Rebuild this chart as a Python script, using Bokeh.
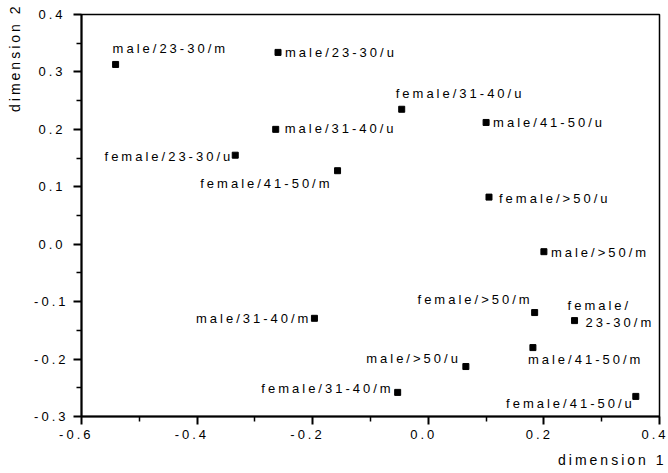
from bokeh.plotting import figure
from bokeh.models import (Range1d, FixedTicker, NumeralTickFormatter, ColumnDataSource,
                          InlineStyleSheet, Title)
from bokeh.core.properties import value
from bokeh.embed import file_html
from bokeh.resources import INLINE

# ---- data ----
labels = [
    "male/23-30/m", "male/23-30/u", "female/31-40/u", "male/41-50/u",
    "male/31-40/u", "female/23-30/u", "female/41-50/m", "female/>50/u",
    "male/>50/m", "female/>50/m", "female/\n23-30/m", "male/31-40/m",
    "male/41-50/m", "male/>50/u", "female/31-40/m", "female/41-50/u",
]
dim1 = [-0.541, -0.260, -0.046, 0.100, -0.264, -0.334, -0.157, 0.105,
        0.200, 0.184, 0.253, -0.197, 0.181, 0.065, -0.053, 0.359]
dim2 = [0.313, 0.334, 0.235, 0.212, 0.200, 0.155, 0.128, 0.082,
        -0.013, -0.119, -0.133, -0.129, -0.180, -0.213, -0.258, -0.265]

x_major = [-0.6, -0.4, -0.2, 0.0, 0.2, 0.4]
x_minor = [-0.5, -0.3, -0.1, 0.1, 0.3]
y_major = [-0.3, -0.2, -0.1, 0.0, 0.1, 0.2, 0.3, 0.4]
y_minor = [-0.25, -0.15, -0.05, 0.05, 0.15, 0.25, 0.35]

# ---- label placement (pixel offsets of the visible text edge from the point) ----
placement = [
    [(-3, -16, "left")], [(7, 0, "left")], [(-6, -16, "left")], [(7, 0, "left")],
    [(9, -1, "left")], [(-5, 1, "right")], [(-8, 13, "right")], [(10, 1, "left")],
    [(7, 1, "left")], [(-5, -13, "right")], [(-7, -15, "left"), (11, 2, "left")],
    [(-6, 0, "right")], [(-5, 12, "left")], [(-8, -8, "right")],
    [(-7, -4, "right")], [(-4, 7, "right")],
]

FONT = "Liberation Sans"
LS = 3.0          # letter spacing (px) used by the original typesetting
W, H = 668, 473
LEFT, RIGHT, TOP, BOTTOM = 79, 9, 14, 57

p = figure(width=W, height=H, output_backend="svg", toolbar_location=None,
           x_range=Range1d(-0.6, 0.4), y_range=Range1d(-0.3, 0.4),
           min_border_left=LEFT, min_border_right=RIGHT,
           min_border_top=TOP, min_border_bottom=BOTTOM)
p.stylesheets = [InlineStyleSheet(css=":host { letter-spacing: %.1fpx; }" % LS)]
p.grid.visible = False
p.outline_line_color = "black"
p.outline_line_width = 1.5
p.background_fill_color = "white"
p.border_fill_color = "white"

p.xaxis.ticker = FixedTicker(ticks=x_major, minor_ticks=x_minor)
p.yaxis.ticker = FixedTicker(ticks=y_major, minor_ticks=y_minor)
for ax in (p.xaxis, p.yaxis):
    ax.formatter = NumeralTickFormatter(format="0.0")
    ax.axis_line_width = 2
    ax.axis_line_color = "black"
    ax.major_tick_line_width = 2
    ax.minor_tick_line_width = 1.5
    ax.major_tick_in = 0
    ax.minor_tick_in = 0
    ax.major_tick_out = 8
    ax.minor_tick_out = 5
    ax.major_label_text_font = FONT
    ax.major_label_text_font_size = "13px"
    ax.major_label_text_color = "black"
p.xaxis.major_label_standoff = 10
p.xaxis.major_label_orientation = 0.0001
p.yaxis.major_label_standoff = 17

# axis titles
p.add_layout(Title(text="dimension 1", align="right", offset=26, standoff=6,
                   vertical_align="bottom", text_font=FONT, text_font_size="14px",
                   text_font_style="normal", text_color="black"), "below")
p.add_layout(Title(text="dimension 2", align="right", offset=22, standoff=13,
                   vertical_align="top", text_font=FONT, text_font_size="14px",
                   text_font_style="normal", text_color="black"), "left")

# points
p.scatter(dim1, dim2, marker="square", size=6, color="black")

# labels (right-aligned ones are shifted by the letter spacing that Bokeh does not measure)
rows = {"left": dict(x=[], y=[], text=[], dx=[], dy=[]),
        "right": dict(x=[], y=[], text=[], dx=[], dy=[])}
for lab, xv, yv, pl in zip(labels, dim1, dim2, placement):
    for line, (dx, dy, al) in zip(lab.split("\n"), pl):
        r = rows[al]
        if al == "right":
            dx = dx - (len(line) - 1) * LS
        r["x"].append(xv); r["y"].append(yv); r["text"].append(line)
        r["dx"].append(dx); r["dy"].append(dy)
for al, r in rows.items():
    p.text(x="x", y="y", text="text", x_offset="dx", y_offset="dy",
           source=ColumnDataSource(r), text_align=al, text_baseline="middle",
           text_font=value(FONT), text_font_size="13px", text_color="black")

open("out.html", "w").write(file_html(p, INLINE))
